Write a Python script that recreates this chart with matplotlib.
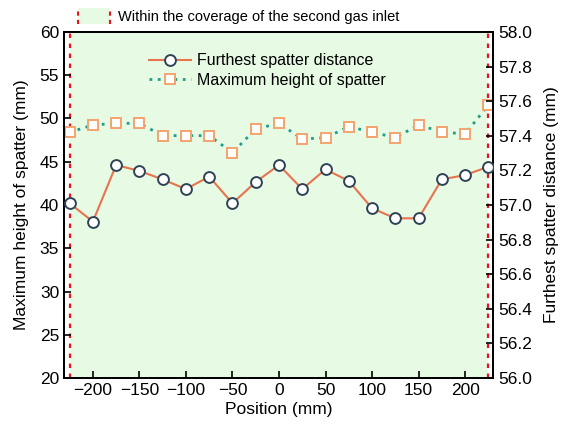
import matplotlib.pyplot as plt
from matplotlib.legend_handler import HandlerBase
from matplotlib.lines import Line2D
from matplotlib.patches import Rectangle

plt.rcParams["font.family"] = ["Liberation Sans", "DejaVu Sans"]
plt.rcParams["axes.unicode_minus"] = True

# positions along the substrate (mm)
positions = [-225, -200, -175, -150, -125, -100, -75, -50, -25, 0,
             25, 50, 75, 100, 125, 150, 175, 200, 225]
# maximum height of spatter (mm), left axis
max_height = [48.40, 49.25, 49.44, 49.44, 48.02, 48.02, 48.02, 46.05, 48.79, 49.44,
              47.63, 47.78, 49.05, 48.44, 47.78, 49.25, 48.44, 48.21, 51.56]
# furthest spatter distance (mm), right axis
furthest = [57.010, 56.904, 57.231, 57.197, 57.148, 57.092, 57.164, 57.010, 57.133, 57.231,
            57.092, 57.206, 57.139, 56.981, 56.923, 56.923, 57.148, 57.173, 57.221]
coverage = (-225, 225)

GREEN = "#E6FAE4"
RED = "#E8141C"
LINE_ORANGE = "#E8734E"
CIRCLE_EDGE = "#2E4355"
SQUARE_EDGE = "#F4A46E"
TEAL = "#1E9E8C"


class CoverageHandler(HandlerBase):
    def create_artists(self, legend, orig_handle, xdescent, ydescent,
                       width, height, fontsize, trans):
        x0, y0 = -xdescent, -ydescent
        rect = Rectangle((x0, y0), width, height, facecolor=GREEN,
                         edgecolor="none", transform=trans)
        left = Line2D([x0, x0], [y0, y0 + height], color=RED, lw=1.5,
                      ls=(0, (2, 2)), transform=trans)
        right = Line2D([x0 + width, x0 + width], [y0, y0 + height], color=RED,
                       lw=1.5, ls=(0, (2, 2)), transform=trans)
        return [rect, left, right]


fig = plt.figure(figsize=(5.63, 4.30), dpi=100)
ax = fig.add_axes([0.1137, 0.1209, 0.762, 0.8047])
ax2 = ax.twinx()

ax.axvspan(coverage[0], coverage[1], color=GREEN, lw=0, zorder=0)
for xv in coverage:
    ax.axvline(xv, color=RED, lw=1.6, ls=(0, (2, 2.5)), zorder=1)

square_style = dict(ls=(0, (1, 2)), lw=2, color=TEAL, marker="s", markersize=6.8,
                    markerfacecolor="white", markeredgecolor=SQUARE_EDGE,
                    markeredgewidth=1.4)
circle_style = dict(ls="-", lw=1.5, color=LINE_ORANGE, marker="o", markersize=7.8,
                    markerfacecolor="white", markeredgecolor=CIRCLE_EDGE,
                    markeredgewidth=1.4)

ax.plot(positions, max_height, zorder=3, **square_style)
ax2.plot(positions, furthest, zorder=3, **circle_style)

ax.set_xlim(-231, 230)
ax.set_ylim(20, 60)
ax2.set_ylim(56.0, 58.0)
ax.set_xticks([-200, -150, -100, -50, 0, 50, 100, 150, 200])
ax.set_yticks(range(20, 61, 5))
ax2.set_yticks([56.0 + 0.2 * i for i in range(11)])
ax2.yaxis.set_major_formatter(plt.FormatStrFormatter("%.1f"))

for a in (ax, ax2):
    a.tick_params(direction="in", length=5, width=1.2, labelsize=12.5)
    for s in a.spines.values():
        s.set_linewidth(1.4)

ax.set_xlabel("Position (mm)", fontsize=12.5, labelpad=3)
ax.set_ylabel("Maximum height of spatter (mm)", fontsize=12.5, labelpad=8)
ax2.set_ylabel("Furthest spatter distance (mm)", fontsize=12.5, labelpad=9)

h_circle = Line2D([], [], **circle_style)
h_square = Line2D([], [], **square_style)
ax2.legend([h_circle, h_square],
           ["Furthest spatter distance", "Maximum height of spatter"],
           loc="upper left", bbox_to_anchor=(0.165, 0.98), frameon=False,
           fontsize=11.5, handlelength=2.6, handletextpad=0.4,
           labelspacing=0.3)

fig.legend([object()], ["Within the coverage of the second gas inlet"],
           handler_map={object: CoverageHandler()},
           loc="center left", bbox_to_anchor=(0.139, 0.963), frameon=False,
           fontsize=10.5, handlelength=2.2, handleheight=1.25,
           handletextpad=0.5, borderaxespad=0, borderpad=0)

fig.savefig("out.png", dpi=100)
